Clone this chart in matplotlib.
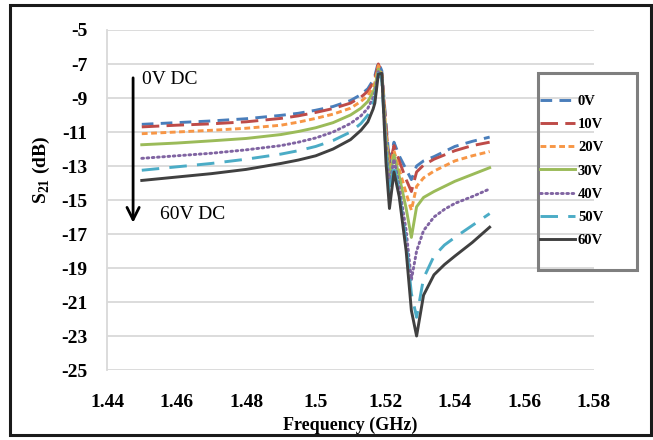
import matplotlib
matplotlib.use('Agg')
import matplotlib.pyplot as plt
from matplotlib.patches import Rectangle

plt.rcParams['font.family'] = ['Liberation Serif', 'DejaVu Serif']
plt.rcParams['mathtext.fontset'] = 'custom'
plt.rcParams['mathtext.rm'] = 'Liberation Serif:bold'
plt.rcParams['mathtext.bf'] = 'Liberation Serif:bold'

# frequency grid (GHz)
freq = [1.45, 1.46, 1.47, 1.48, 1.49, 1.495, 1.50, 1.505, 1.51, 1.513, 1.515, 1.5165, 1.517, 1.518,
        1.519, 1.5202, 1.5212, 1.5225, 1.524, 1.526, 1.5275, 1.529, 1.531, 1.534, 1.537, 1.54, 1.545, 1.55]

# S21 (dB) per bias voltage
s21_0v = [-10.55, -10.45, -10.35, -10.22, -10.02, -9.9, -9.72, -9.5, -9.15, -8.8, -8.45, -7.95, -7.7,
          -6.9, -7.4, -10.5, -12.8, -11.6, -12.4, -13.2, -13.8, -13.0, -12.7, -12.45, -12.15, -11.85, -11.55, -11.3]
s21_10v = [-10.7, -10.6, -10.52, -10.4, -10.2, -10.05, -9.85, -9.62, -9.3, -8.95, -8.6, -8.1, -7.85,
           -7.0, -7.5, -10.7, -13.0, -11.8, -12.7, -13.8, -14.5, -13.35, -12.95, -12.6, -12.35, -12.1, -11.8, -11.6]
s21_20v = [-11.1, -11.0, -10.9, -10.78, -10.6, -10.42, -10.2, -9.95, -9.6, -9.2, -8.85, -8.35, -8.1,
           -7.1, -7.6, -11.0, -13.3, -12.1, -13.2, -14.6, -15.6, -14.2, -13.7, -13.3, -13.0, -12.7, -12.4, -12.15]
s21_30v = [-11.75, -11.65, -11.52, -11.38, -11.15, -10.97, -10.75, -10.45, -10.0, -9.6, -9.2, -8.65, -8.4,
           -7.3, -7.7, -11.3, -13.7, -12.35, -13.6, -15.5, -17.2, -15.4, -14.85, -14.5, -14.2, -13.9, -13.5, -13.1]
s21_40v = [-12.55, -12.4, -12.25, -12.05, -11.8, -11.6, -11.35, -11.0, -10.5, -10.05, -9.6, -8.98, -8.7,
           -7.45, -7.8, -11.7, -14.2, -12.6, -14.2, -16.8, -19.7, -18.0, -16.8, -16.0, -15.55, -15.2, -14.8, -14.35]
s21_50v = [-13.25, -13.05, -12.85, -12.6, -12.3, -12.1, -11.85, -11.5, -11.0, -10.5, -10.0, -9.3, -9.0,
           -7.55, -7.9, -12.2, -14.8, -12.9, -14.6, -17.5, -20.5, -21.9, -19.6, -18.3, -17.65, -17.2, -16.5, -15.8]
s21_60v = [-13.85, -13.65, -13.45, -13.2, -12.85, -12.65, -12.4, -12.0, -11.45, -10.9, -10.4, -9.65, -9.3,
           -7.6, -7.55, -12.8, -15.5, -13.35, -14.8, -18.0, -21.5, -23.0, -20.6, -19.4, -18.8, -18.3, -17.5, -16.6]

labels = ['0V', '10V', '20V', '30V', '40V', '50V', '60V']
series = [s21_0v, s21_10v, s21_20v, s21_30v, s21_40v, s21_50v, s21_60v]
colors = ['#4A7EBB', '#BE4B48', '#F79646', '#9BBB59', '#8064A2', '#4BACC6', '#404040']
styles = [(0, (4, 2.5)), (0, (6, 2.5)), (0, (2, 1.2)), '-', (0, (0.6, 1.2)), (0, (6, 3.5)), '-']

xticks = [1.44, 1.46, 1.48, 1.5, 1.52, 1.54, 1.56, 1.58]
xticklabels = ['1.44', '1.46', '1.48', '1.5', '1.52', '1.54', '1.56', '1.58']
yticks = list(range(-25, -4, 2))

fig = plt.figure(figsize=(6.53, 4.4), dpi=100)
ax = fig.add_axes([107 / 653, 1 - 370 / 440, 487 / 653, 340 / 440])

for y, lab, c, ls in zip(series, labels, colors, styles):
    cap = 'round' if lab == '40V' else 'butt'
    ax.plot(freq, y, color=c, linestyle=ls, lw=2.1, label=lab, dash_capstyle=cap)

ax.set_xlim(1.44, 1.58)
ax.set_ylim(-25, -5)
ax.set_xticks(xticks)
ax.set_xticklabels(xticklabels)
ax.set_yticks(yticks)
ax.set_yticklabels([str(v) for v in yticks])
ax.grid(axis='y', color='#D9D9D9', lw=1.3)
ax.set_axisbelow(True)
for side in ['top', 'right', 'bottom']:
    ax.spines[side].set_visible(False)
ax.spines['left'].set_color('#D9D9D9')
ax.spines['left'].set_linewidth(1.3)
ax.tick_params(length=0, labelsize=14)
ax.tick_params(axis='x', pad=17)
ax.tick_params(axis='y', pad=14)
for t in ax.get_xticklabels() + ax.get_yticklabels():
    t.set_fontweight('bold')

ax.set_xlabel('Frequency (GHz)', fontsize=13, fontweight='bold')
ax.xaxis.set_label_coords(0.5, -0.137)
ax.set_ylabel(r'S$_{\mathbf{21}}$ (dB)', fontsize=14, fontweight='bold')
ax.yaxis.set_label_coords(-0.113, 0.59)

# bias arrow and annotations
ax.annotate('', xy=(1.4475, -16.5), xytext=(1.4475, -7.65),
            arrowprops=dict(arrowstyle='->', lw=2, color='black', mutation_scale=22))
ax.text(1.4501, -7.94, '0V DC', fontsize=14, va='center', ha='left')
ax.text(1.4552, -15.88, '60V DC', fontsize=14, va='center', ha='left')

# legend box
fig.patches.append(Rectangle((538 / 653, 1 - 270 / 440), 99 / 653, 197 / 440,
                             transform=fig.transFigure, fill=False,
                             edgecolor='#7F7F7F', lw=2.2))
leg = fig.legend(loc='upper left', bbox_to_anchor=(540 / 653, 1 - 95 / 440),
                 frameon=False, handlelength=2.4, handletextpad=0.2,
                 labelspacing=0.68, borderaxespad=0, borderpad=0,
                 prop={'family': 'Liberation Serif', 'weight': 'bold', 'size': 10.5})

# outer chart border
fig.patches.append(Rectangle((10 / 653, 5 / 440), 641 / 653, 430 / 440,
                             transform=fig.transFigure, fill=False,
                             edgecolor='#1A1A1A', lw=2.2))

fig.savefig('out.png', dpi=100)
